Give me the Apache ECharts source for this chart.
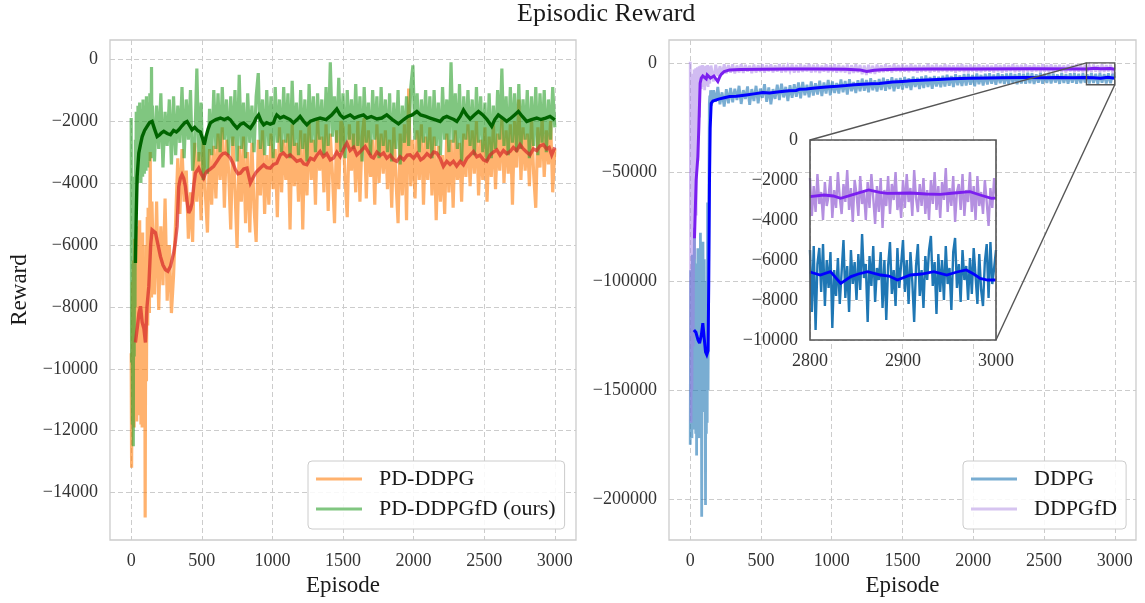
<!DOCTYPE html>
<html><head><meta charset="utf-8">
<script src="https://cdn.jsdelivr.net/npm/echarts@6/dist/echarts.min.js"></script>
<style>html,body{margin:0;padding:0;background:#fff}#c{width:1145px;height:603px}</style>
</head><body><div id="c"></div><script>
// ---------------- data ----------------
const EARLY_STEP = 3;         // episodes between raw samples, episodes 0-147
const RAW_STEP = 15;          // episodes between raw samples, episodes 150-3000
const LATE_START = 150;
const INSET_STEP = 2;         // episodes between raw samples (inset)
const INSET_START = 2800;

const episodeTicks = [0, 500, 1000, 1500, 2000, 2500, 3000];
const leftYTicks = [0, -2000, -4000, -6000, -8000, -10000, -12000, -14000];
const rightYTicks = [0, -50000, -100000, -150000, -200000];
const insetXTicks = [2800, 2900, 3000];
const insetYTicks = [0, -2000, -4000, -6000, -8000, -10000];

// PD-DDPG raw reward
const pdRawEarly = [
 -9500,-13200,-10500,-7200,-11600,-6500,-9800,-11900,-5800,-8700,
 -11000,-6200,-9400,-11700,-5400,-8200,-10800,-6800,-11500,-7600,
 -5200,-9900,-7000,-11800,-6100,-9000,-11900,-5600,-8400,-10600,
 -6500,-11700,-8000,-14800,-9200,-6000,-10400,-7200,-5100,-8600,
 -4800,-7400,-5900,-8200,-4500,-3000,-6900,-5300,-7700,-4600];
const pdRaw = [
 -5200,-7600,-4600,-8100,-5400,-7300,-4500,-7800,-6000,-8200,
 -7000,-5200,-3200,-5000,-2900,-4600,-3600,-5800,-4300,-5900,
 -2700,-4600,-3000,-5200,-2600,-4300,-5600,-2900,-4700,-2800,
 -4500,-2400,-3900,-2200,-4800,-2600,-3600,-5500,-2500,-4200,
 -6100,-2800,-4600,-2500,-5300,-3000,-5600,-2700,-4800,-5900,
 -2600,-4400,-2300,-5000,-3100,-4700,-2400,-4200,-2900,-5100,
 -2200,-4300,-2600,-3900,-2400,-5500,-2100,-4100,-2700,-4600,
 -2300,-5500,-2400,-4400,-2000,-3900,-2600,-4700,-1900,-3600,
 -2500,-4300,-2100,-4900,-2400,-3700,-5300,-2300,-4200,-2000,
 -2200,-3900,-5100,-2100,-3600,-2400,-4300,-2000,-4600,-2500,
 -1900,-4500,-2300,-3800,-2600,-4700,-2100,-4000,-2400,-3700,
 -2300,-4200,-2600,-4800,-2200,-3900,-5300,-2400,-4400,-2100,
 -5200,-950,-4100,-2600,-4500,-2300,-3900,-2100,-4700,-2500,
 -3900,-2200,-4400,-2500,-5200,-2800,-4600,-3100,-5000,-2400,
 -4300,-2600,-4800,-2300,-3900,-2700,-4600,-2400,-3800,-2100,
 -4100,-2300,-3700,-2000,-4400,-2600,-3900,-2200,-4600,-2500,
 -3800,-2100,-4200,-2400,-3600,-1900,-4000,-2300,-3700,-2100,
 -4700,-2000,-3500,-1300,-3900,-2200,-3600,-2400,-4100,-1900,
 -3700,-4800,-2200,-3500,-1900,-3800,-2300,-3400,-2000,-4300,
 -2900];

// PD-DDPGfD raw reward
const pdfdRawEarly = [
 -1900,-9800,-4500,-11800,-7000,-12500,-3800,-9600,-5200,-8000,
 -2600,-4100,-1700,-3600,-2200,-4000,-1500,-3300,-2400,-3900,
 -1400,-3500,-2000,-4000,-1600,-3200,-2500,-3800,-1300,-3400,
 -2100,-3700,-1500,-3000,-1900,-3600,-1200,-2900,-2300,-3500,
 -1400,-3100,-1800,-3300,-1100,-2800,-1600,-3200,-250,-2700];
const pdfdRaw = [
 -1500,-3300,-1500,-2900,-1100,-3500,-1700,-2800,-1300,-3400,
 -1200,-3100,-1500,-2700,-900,-3200,-1300,-2600,-1000,-3600,
 -2800,-300,-3300,-1400,-3900,-2500,-3700,-1600,-3100,-1000,
 -2900,-1100,-3000,-900,-2600,-1300,-3100,-1200,-2800,-1000,
 -3300,-500,-2900,-1400,-3200,-1100,-2700,-1500,-3000,-1200,
 -450,-2900,-1300,-3100,-1000,-2800,-1200,-3200,-900,-2700,
 -1300,-3000,-900,-2700,-1100,-3200,-700,-2800,-1400,-3100,
 -1000,-2900,-1300,-3300,-800,-2700,-1200,-3000,-1100,-2600,
 -1300,-3100,-900,-2800,-100,-2500,-1200,-2700,-600,-3000,
 -1100,-3200,-1000,-2600,-1300,-2900,-800,-2800,-1200,-3300,
 -900,-2700,-1400,-3100,-1000,-2600,-1200,-3200,-900,-2800,
 -1300,-3000,-1100,-3300,-1400,-2900,-1000,-3400,-1500,-2700,
 -1200,-2800,-900,-200,-2600,-1100,-3000,-1300,-2700,-1000,
 -2900,-1200,-3200,-1000,-2800,-1400,-3100,-900,-2600,-1300,
 -3000,-100,-2700,-1100,-2900,-800,-3300,-1200,-2600,-1000,
 -2800,-1300,-3100,-900,-2700,-1200,-3000,-1400,-3300,-1100,
 -3200,-1500,-2900,-1000,-2600,-300,-2800,-1200,-3100,-900,
 -2700,-1100,-3000,-800,-2900,-1300,-2600,-1000,-3200,-1200,
 -2800,-900,-3100,-1100,-2700,-1000,-3000,-1300,-2600,-900,
 -2200];

// DDPG raw reward
const ddpgRawEarly = [
 -175000,-95000,-160000,-120000,-172000,-88000,-150000,-110000,-168000,-100000,
 -75600,-155000,-118000,-170000,-92000,-180000,-105000,-145000,-85000,-165000,
 -125000,-172000,-98000,-150000,-77900,-160000,-112000,-208000,-95000,-140000,
 -82000,-130000,-160000,-90000,-155000,-120000,-202600,-100000,-170000,-125000,
 -165000,-64000,-150000,-110000,-60000,-19000,-15000,-18500,-12500,-17000];
const ddpgRaw = [
 -19500,-12500,-17800,-11000,-19000,-13500,-20000,-12000,-18500,-11500,
 -18000,-11800,-17000,-10500,-18800,-12500,-16500,-10800,-19200,-12000,
 -17500,-10500,-18500,-11800,-16000,-9800,-17800,-11200,-19000,-12000,
 -16500,-10000,-17000,-9500,-15800,-11000,-17500,-10200,-16000,-9800,
 -15500,-9000,-16200,-8700,-14800,-10000,-15800,-8500,-15000,-9300,
 -14500,-8200,-15200,-9000,-14000,-7800,-14800,-8500,-13800,-9200,
 -14000,-7600,-13500,-8300,-14500,-7500,-13000,-8800,-13800,-7900,
 -13000,-7200,-12800,-7800,-13500,-7000,-12500,-8000,-13100,-7400,
 -12400,-6800,-12800,-7500,-12000,-6600,-13000,-7200,-11800,-6900,
 -12200,-6500,-11500,-7000,-12400,-6300,-11000,-6800,-12000,-6200,
 -11500,-5800,-11000,-6500,-11800,-6000,-10800,-6400,-11200,-5900,
 -10800,-5400,-10500,-6000,-11000,-5200,-10200,-5800,-10600,-5100,
 -10400,-5000,-10000,-5600,-10700,-4900,-9800,-5500,-10300,-5000,
 -9900,-4800,-9500,-5300,-10000,-4700,-9300,-5200,-9700,-4900,
 -9600,-4600,-9200,-5100,-9800,-4700,-9400,-5000,-9500,-4500,
 -9300,-4800,-9700,-5200,-9100,-4600,-9500,-5000,-9200,-4700,
 -9400,-4900,-9000,-5300,-9600,-4600,-9200,-5100,-9500,-4800,
 -9100,-4700,-9500,-5000,-9300,-4800,-9000,-5200,-9400,-4600,
 -9200,-5000,-9500,-4700,-9100,-5100,-9400,-4800,-9300,-5000,
 -7000];

// DDPGfD raw reward
const ddpgfdRawEarly = [
 500,-120000,-165000,-20000,-150000,-60000,-5000,-130000,-80000,-3000,
 -90000,-4000,-55000,-2500,-70000,-3000,-35000,-2000,-45000,-4000,
 -15000,-1500,-25000,-3000,-9000,-1200,-12000,-2500,-8000,-1000,
 -11000,-3000,-7500,-1500,-12500,-2000,-9000,-1300,-10500,-2500,
 -6000,-1000,-11000,-3000,-8000,-1500,-9500,-2000,-6500,-1200];
const ddpgfdRaw = [
 -1200,-8500,-800,-6000,-1500,-5200,-600,-4800,-1000,-4500,
 -700,-4800,-1200,-4300,-500,-4600,-900,-4000,-1300,-4700,
 -800,-4400,-1100,-4100,-600,-4500,-1000,-3900,-700,-4300,
 -1200,-4000,-600,-4400,-900,-4200,-1300,-3800,-800,-4500,
 -1000,-4300,-700,-4100,-1100,-3900,-500,-4400,-900,-4200,
 -800,-4600,-1200,-4000,-700,-4300,-1000,-4100,-600,-4500,
 -900,-4200,-1300,-4400,-800,-5000,-1100,-4600,-700,-4300,
 -1000,-5200,-1200,-5500,-900,-4800,-1300,-5000,-800,-4400,
 -1100,-4200,-700,-4000,-1200,-4300,-600,-3900,-1000,-4100,
 -800,-4000,-1100,-4200,-700,-3800,-1000,-4400,-900,-4100,
 -1200,-3900,-600,-4300,-1000,-4000,-800,-4200,-1100,-3800,
 -700,-4100,-1000,-3900,-1200,-4400,-900,-4000,-600,-4200,
 -1000,-4300,-800,-3800,-1100,-4100,-700,-4200,-1200,-3900,
 -900,-4000,-1300,-4300,-700,-3900,-1000,-4400,-800,-4100,
 -1100,-3800,-600,-4200,-1000,-4000,-900,-4300,-700,-3900,
 -1200,-4100,-800,-3900,-1100,-4300,-600,-4000,-1000,-4200,
 -700,-4300,-1000,-3800,-900,-4100,-1200,-4400,-800,-3900,
 -1000,-4200,-700,-4000,-1100,-4300,-900,-3900,-1300,-4100,
 -800,-4000,-1200,-4300,-700,-4100,-1000,-3900,-900,-4200,
 -2600];

// smoothed curves: [episode, reward]
const pdSmooth = [[30,-9150],[45,-8600],[55,-8200],[66,-7980],[78,-8500],[90,-8700],[101,-9150],[112,-8000],[125,-7330],[138,-6000],[148,-5510],[160,-5450],[172,-5600],[190,-6000],[207,-6370],[225,-6650],[243,-6800],[260,-6850],[278,-6690],[301,-6260],[313,-5900],[325,-5400],[337,-4110],[348,-3850],[360,-3730],[372,-3850],[384,-4110],[396,-4600],[407,-4970],[420,-4850],[431,-4650],[443,-4100],[455,-3680],[478,-3520],[495,-3700],[513,-3840],[525,-3700],[537,-3620],[560,-3550],[584,-3460],[608,-3300],[631,-3140],[650,-3050],[667,-3030],[685,-3100],[702,-3190],[720,-3350],[738,-3570],[756,-3700],[773,-3680],[797,-3550],[820,-3520],[844,-4000],[867,-3790],[885,-3650],[902,-3570],[938,-3410],[960,-3500],[985,-3520],[1008,-3400],[1031,-3360],[1056,-3090],[1078,-3030],[1102,-3150],[1126,-3090],[1150,-3190],[1173,-3300],[1200,-3250],[1222,-3380],[1244,-3410],[1270,-3200],[1295,-3250],[1315,-3100],[1338,-2980],[1360,-3150],[1385,-3050],[1410,-3250],[1433,-3190],[1456,-3000],[1480,-3150],[1504,-2900],[1527,-2710],[1550,-2950],[1575,-2850],[1598,-3090],[1620,-3000],[1640,-2900],[1657,-2820],[1680,-3000],[1700,-3150],[1716,-3190],[1740,-3000],[1765,-3100],[1787,-3030],[1810,-3200],[1835,-3100],[1860,-3250],[1881,-3300],[1905,-3150],[1930,-3250],[1955,-3100],[1975,-3090],[2000,-3200],[2025,-3050],[2050,-3250],[2070,-3190],[2095,-3050],[2120,-3150],[2142,-3000],[2164,-3030],[2188,-3200],[2211,-3460],[2235,-3300],[2258,-3400],[2282,-3300],[2305,-3450],[2330,-3300],[2353,-3410],[2378,-3200],[2400,-3100],[2424,-2980],[2447,-3150],[2470,-3100],[2495,-3250],[2518,-3300],[2541,-3100],[2565,-3000],[2589,-2930],[2612,-3100],[2636,-2950],[2660,-3050],[2683,-2980],[2706,-2850],[2730,-2950],[2754,-2760],[2777,-2900],[2800,-3000],[2824,-3090],[2848,-2900],[2872,-2950],[2895,-2800],[2919,-2760],[2942,-2900],[2960,-2850],[2978,-3090],[3000,-2850]];

const pdfdSmooth = [[30,-6580],[36,-5000],[42,-3800],[54,-3030],[66,-2750],[78,-2500],[95,-2300],[113,-2170],[130,-2050],[148,-2010],[165,-2250],[184,-2500],[200,-2450],[215,-2380],[231,-2330],[255,-2400],[278,-2440],[300,-2300],[320,-2350],[337,-2280],[360,-2150],[380,-2050],[396,-2010],[414,-2150],[431,-2280],[450,-2200],[470,-2300],[490,-2350],[505,-2550],[518,-2760],[530,-2500],[545,-2250],[561,-2060],[580,-2000],[600,-1950],[632,-1900],[660,-1950],[685,-1900],[703,-1960],[725,-2100],[750,-2230],[775,-2100],[797,-2060],[820,-2150],[844,-2230],[870,-2050],[885,-1900],[902,-1800],[920,-2000],[938,-2120],[960,-2050],[985,-2100],[1008,-2060],[1020,-1900],[1031,-1800],[1055,-1900],[1080,-1850],[1102,-1900],[1125,-1950],[1149,-2060],[1175,-1950],[1196,-1850],[1220,-2000],[1244,-2120],[1270,-2000],[1300,-1950],[1338,-1900],[1380,-1950],[1420,-1800],[1456,-1610],[1480,-1800],[1504,-1900],[1527,-1850],[1551,-1800],[1580,-1900],[1610,-1850],[1645,-1800],[1670,-1900],[1700,-1850],[1740,-1930],[1775,-1900],[1810,-1800],[1850,-1950],[1893,-2090],[1930,-1950],[1960,-1850],[1990,-1800],[2023,-1690],[2050,-1800],[2085,-1850],[2117,-1900],[2150,-1950],[2188,-2010],[2210,-1900],[2235,-1850],[2260,-1900],[2285,-1950],[2306,-2010],[2330,-1850],[2353,-1640],[2375,-1800],[2400,-1930],[2430,-1800],[2459,-1690],[2490,-1800],[2520,-1950],[2553,-2170],[2575,-1950],[2600,-1800],[2630,-1900],[2659,-2010],[2690,-1900],[2715,-1800],[2742,-1690],[2770,-1850],[2801,-2010],[2835,-1950],[2872,-1900],[2900,-1950],[2935,-1900],[2966,-1850],[3000,-1960]];

const ddpgSmooth = [[26,-122400],[40,-123500],[55,-127000],[66,-128500],[78,-125000],[89,-119300],[100,-127000],[108,-132500],[117,-133800],[126,-132000],[131,-100000],[136,-55000],[141,-30000],[148,-18500],[160,-17500],[172,-17000],[200,-16600],[240,-16000],[278,-15400],[325,-15300],[395,-14700],[450,-14200],[513,-13600],[560,-13800],[631,-13200],[700,-12800],[749,-12600],[772,-12100],[820,-12000],[866,-11600],[920,-11300],[983,-10900],[1040,-10700],[1100,-10400],[1160,-10000],[1218,-9800],[1280,-9500],[1336,-9400],[1430,-8800],[1500,-8500],[1560,-8200],[1665,-7800],[1750,-7600],[1850,-7300],[1971,-7000],[2100,-6900],[2200,-6800],[2371,-6700],[2500,-6800],[2600,-6700],[2700,-6800],[2795,-6700],[2850,-6800],[2900,-7000],[2950,-6600],[3000,-7000]];

const ddpgfdSmooth = [[30,-80400],[42,-53600],[54,-42900],[61,-29200],[66,-18000],[70,-9300],[78,-7000],[89,-6000],[100,-6800],[113,-7300],[120,-5500],[131,-6000],[143,-7000],[155,-6200],[167,-6000],[180,-7200],[195,-8500],[210,-6200],[219,-5200],[240,-4000],[278,-3200],[350,-3000],[513,-2900],[700,-2800],[900,-2800],[1100,-2900],[1200,-3200],[1247,-3900],[1300,-3400],[1350,-3100],[1450,-2900],[1700,-2800],[2000,-2800],[2400,-2700],[2800,-2800],[2860,-2500],[2900,-2700],[2970,-2600],[3000,-2900]];

// inset (episodes 2800-3000, every 2 episodes)
const insetDdpgRaw = [
 -5500,-8600,-5300,-9500,-6200,-5400,-7600,-5200,-8300,-6000,
 -7400,-5600,-9400,-6500,-7800,-5900,-8200,-6600,-5000,-7900,
 -6300,-8600,-5500,-7200,-6100,-8000,-5700,-7500,-4700,-6900,
 -6200,-9100,-5800,-7300,-5300,-8100,-6400,-7000,-5600,-8400,
 -6000,-9000,-6300,-5100,-7700,-6500,-8300,-5400,-7400,-6200,
 -5000,-7600,-6000,-8200,-5600,-7100,-9100,-6300,-5200,-7800,
 -6500,-8400,-5800,-7000,-5500,-4800,-7300,-6100,-8700,-5700,
 -7600,-6000,-8000,-5300,-7200,-6400,-8500,-5600,-4900,-7400,
 -6200,-8100,-5500,-7000,-6300,-8000,-5900,-7700,-5400,-6800,
 -8200,-5700,-7500,-8300,-6100,-5200,-7900,-5100,-7200,-6400,
 -5500];
const insetDdpgfdRaw = [
 -1900,-3800,-2300,-3600,-1700,-3200,-2600,-4000,-2100,-3300,
 -2800,-1800,-3900,-2500,-3400,-1600,-2900,-3700,-2200,-3100,
 -1500,-3500,-2400,-4100,-2000,-2700,-3800,-1800,-3200,-2600,
 -4000,-2100,-3400,-1700,-2900,-4200,-2300,-3600,-1900,-4400,
 -2500,-3300,-1800,-3700,-2200,-3000,-1600,-3500,-2700,-3900,
 -2000,-3400,-1700,-3100,-2400,-3800,-1500,-2900,-3600,-2200,
 -3300,-1900,-3700,-2500,-4000,-2000,-3200,-1600,-3500,-2300,
 -3900,-2100,-3000,-1400,-3600,-2400,-3300,-1800,-4100,-2600,
 -2200,-3500,-1700,-3800,-2500,-3100,-1600,-3600,-2300,-4000,
 -1800,-3300,-2600,-3700,-2000,-3100,-4300,-2400,-3400,-1900,
 -2800];
const insetDdpgSmooth = [[2800,-6600],[2811,-6750],[2822,-6580],[2833,-7170],[2844,-6830],[2852,-6700],[2862,-6580],[2876,-6750],[2885,-6800],[2894,-7000],[2908,-6750],[2920,-6700],[2933,-6580],[2947,-6750],[2958,-6600],[2968,-6500],[2976,-6700],[2983,-6920],[2991,-7000],[3000,-7000]];
const insetDdpgfdSmooth = [[2800,-2830],[2815,-2750],[2825,-2800],[2833,-2920],[2847,-2720],[2863,-2500],[2875,-2620],[2883,-2670],[2908,-2650],[2925,-2700],[2940,-2720],[2955,-2650],[2972,-2580],[2983,-2750],[2995,-2920],[3000,-2900]];

// ---------------- chart ----------------
const FONT = "'Liberation Serif','Times New Roman',serif";
const TITLE = 'Episodic Reward';
const TITLE_SIZE = 26;
const TITLE_CENTER_X = 606;
const neg = v => (v < 0 ? '\u2212' + (-v) : String(v));
const withEp = (arr, start, step) => arr.map((v, i) => [start + i * step, v]);
const rawSeries = (early, late) => withEp(early, 0, EARLY_STEP).concat(withEp(late, LATE_START, RAW_STEP));

function axis(gridIndex, min, max, ticks, name, nameGap, z) {
  return {
    type: 'value', gridIndex, min, max, z,
    name: name || '', nameLocation: 'middle', nameGap: nameGap || 30,
    nameTextStyle: {fontFamily: FONT, fontSize: 23, color: '#1a1a1a'},
    axisLine: {show: false},
    axisTick: {show: false, customValues: ticks},
    axisLabel: {customValues: ticks, formatter: neg, fontFamily: FONT, fontSize: 18, color: '#333', margin: 12, hideOverlap: false},
    splitLine: {show: true, lineStyle: {color: '#cccccc', type: [5, 3], width: 1}}
  };
}
function line(name, data, xi, color, width, opacity, z) {
  return {
    type: 'line', name, data, xAxisIndex: xi, yAxisIndex: xi,
    showSymbol: false, symbol: 'none', silent: true, z,
    lineStyle: {color, width, opacity, join: 'miter', miterLimit: 3}, itemStyle: {color},
    emphasis: {disabled: true}, animation: false
  };
}
function legend(left, items) {
  return {
    left, top: 461, orient: 'vertical', icon: 'rect', itemWidth: 46, itemHeight: 3, itemGap: 6,
    padding: [6, 9, 8, 8], backgroundColor: 'rgba(255,255,255,0.85)', borderColor: '#cccccc',
    borderWidth: 1, borderRadius: 4, selectedMode: false,
    textStyle: {fontFamily: FONT, fontSize: 22, color: '#1a1a1a', lineHeight: 24, padding: [0, 0, 0, 12]},
    data: items.map(([name, color]) => ({name, itemStyle: {color}}))
  };
}

// title width, to centre it on the figure centre
const mctx = document.createElement('canvas').getContext('2d');
mctx.font = TITLE_SIZE + "px 'Liberation Serif'";
const titleW = mctx.measureText(TITLE).width;

const chart = echarts.init(document.getElementById('c'), null, {renderer: 'canvas'});
const option = {
  animation: false,
  backgroundColor: '#fff',
  title: {text: TITLE, left: Math.round(TITLE_CENTER_X - titleW / 2), top: 1, padding: 0, textAlign: 'left',
    textStyle: {fontFamily: FONT, fontSize: TITLE_SIZE, fontWeight: 'normal', color: '#1a1a1a'}},
  grid: [
    {left: 110, top: 40, width: 466, height: 500, show: true, borderColor: '#cccccc', borderWidth: 1.3},
    {left: 669, top: 40, width: 467, height: 500, show: true, borderColor: '#cccccc', borderWidth: 1.3},
    {left: 810, top: 140, width: 186, height: 200, show: true, backgroundColor: '#ffffff', borderWidth: 0, z: 10}
  ],
  xAxis: [
    axis(0, -150, 3150, episodeTicks, 'Episode', 31, 0),
    axis(1, -150, 3150, episodeTicks, 'Episode', 31, 0),
    axis(2, 2800, 3000, insetXTicks, '', 30, 11)
  ],
  yAxis: [
    axis(0, -15530, 620, leftYTicks, 'Reward', 79, 0),
    axis(1, -218700, 10500, rightYTicks, '', 30, 0),
    axis(2, -10000, 0, insetYTicks, '', 30, 11)
  ],
  legend: [
    legend(308, [['PD-DDPG', '#ffb26e'], ['PD-DDPGfD (ours)', '#80c680']]),
    legend(963, [['DDPG', '#79add2'], ['DDPGfD', '#d6c4f0']])
  ],
  series: [
    line('PD-DDPG', rawSeries(pdRawEarly, pdRaw), 0, '#ff7f0e', 3.2, 0.6, 2),
    line('PD-DDPGfD (ours)', rawSeries(pdfdRawEarly, pdfdRaw), 0, '#2ca02c', 3.2, 0.6, 3),
    line('PD-DDPG smooth', pdSmooth, 0, '#d62728', 3.4, 0.7, 4),
    line('PD-DDPGfD smooth', pdfdSmooth, 0, '#006400', 3.4, 1, 5),
    line('DDPG', rawSeries(ddpgRawEarly, ddpgRaw), 1, '#1f77b4', 2.8, 0.6, 2),
    line('DDPGfD', rawSeries(ddpgfdRawEarly, ddpgfdRaw), 1, '#a47ae6', 2.8, 0.5, 3),
    line('DDPG smooth', ddpgSmooth, 1, '#0000ff', 3, 1, 4),
    line('DDPGfD smooth', ddpgfdSmooth, 1, '#7b1fef', 3, 1, 5),
    line('DDPGfD inset', withEp(insetDdpgfdRaw, INSET_START, INSET_STEP), 2, '#b48fe0', 2.4, 1, 12),
    line('DDPG inset', withEp(insetDdpgRaw, INSET_START, INSET_STEP), 2, '#1f77b4', 2.4, 1, 13),
    line('DDPGfD inset smooth', insetDdpgfdSmooth, 2, '#7b1fef', 2.8, 1, 14),
    line('DDPG inset smooth', insetDdpgSmooth, 2, '#0000ff', 2.8, 1, 15)
  ]
};
chart.setOption(option);

// zoom-region marker, inset frame and connectors, positioned through the axes
const x0 = insetXTicks[0], x1 = insetXTicks[insetXTicks.length - 1];
const y0 = insetYTicks[0], y1 = insetYTicks[insetYTicks.length - 1];
const a = chart.convertToPixel({gridIndex: 1}, [x0, y0]);
const b = chart.convertToPixel({gridIndex: 1}, [x1, y1]);
const c = chart.convertToPixel({gridIndex: 2}, [x0, y0]);
const d = chart.convertToPixel({gridIndex: 2}, [x1, y1]);
const st = {stroke: '#555555', lineWidth: 1.4};
chart.setOption({graphic: [
  {type: 'rect', z: 30, silent: true, shape: {x: a[0], y: a[1], width: b[0] - a[0], height: b[1] - a[1]}, style: Object.assign({fill: 'none'}, st)},
  {type: 'rect', z: 30, silent: true, shape: {x: c[0], y: c[1], width: d[0] - c[0], height: d[1] - c[1]}, style: {fill: 'none', stroke: '#555555', lineWidth: 1.6}},
  {type: 'line', z: 30, silent: true, shape: {x1: a[0], y1: a[1], x2: c[0], y2: c[1]}, style: st},
  {type: 'line', z: 30, silent: true, shape: {x1: b[0], y1: b[1], x2: d[0], y2: d[1]}, style: st}
]});
</script></body></html>
